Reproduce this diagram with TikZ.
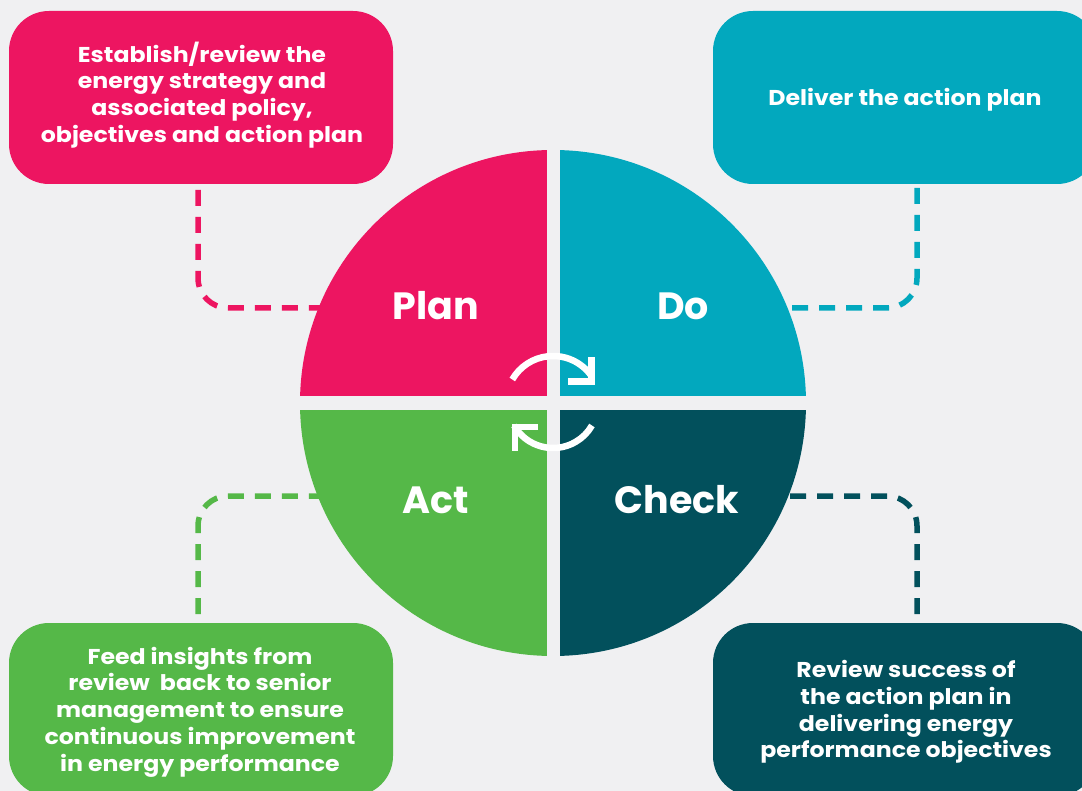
\documentclass[tikz,border=0pt]{standalone}
\usepackage{fontspec}
\setmainfont{Poppins}
\newfontfamily\widefont{Poppins}[FakeStretch=1.1]
\definecolor{bg}{HTML}{F0F0F2}
\definecolor{cplan}{HTML}{ED1561}
\definecolor{cdo}{HTML}{02A8BE}
\definecolor{cact}{HTML}{55B848}
\definecolor{ccheck}{HTML}{02505C}
\begin{document}
\begin{tikzpicture}[x=1pt,y=-1pt,
  infobox/.style={rounded corners=40pt, minimum width=384pt, minimum height=173pt, inner sep=0pt},
  boxtext/.style={text=white, align=center, inner sep=0pt, font=\widefont\fontsize{21.5}{26.7}\selectfont\bfseries},
  quadtext/.style={text=white, anchor=base, inner sep=0pt, font=\fontsize{38}{40}\selectfont\bfseries},
  dashline/.style={line width=5.5pt, dash pattern=on 16pt off 11pt, rounded corners=30pt},
  cycline/.style={white, line width=6.5pt},
  tipline/.style={white, line width=6.5pt, miter limit=10}]
\clip (0,0) rectangle (1082,791);
\fill[bg] (0,0) rectangle (1082,791);
\useasboundingbox (0,0) rectangle (1082,791);

% coordinates for connectors
\coordinate (pstart) at (198,190);
\coordinate (pend) at (330,308);
\coordinate (dstart) at (917,188);
\coordinate (dend) at (776,308);
\coordinate (astart) at (198,614);
\coordinate (aend) at (330,496);
\coordinate (cstart) at (917,614);
\coordinate (cend) at (776,496);

% dashed connectors
\draw[dashline, cplan] (pstart) |- (pend);
\draw[dashline, cdo] (dstart) |- (dend);
\draw[dashline, cact] (astart) |- (aend);
\draw[dashline, ccheck] (cstart) |- (cend);

% boxes
\node[infobox, fill=cplan] (pbox) at (201,97.5) {};
\node[infobox, fill=cdo] (dbox) at (905,97.5) {};
\node[infobox, fill=cact] (abox) at (201,709.5) {};
\node[infobox, fill=ccheck] (cbox) at (905,709.5) {};

\node[boxtext] (ptext) at (202,95) {Establish/review the\\energy strategy and\\associated policy,\\objectives and action plan};
\node[boxtext] (dtext) at (905,100) {Deliver the action plan};
\node[boxtext] (atext) at (200,712) {Feed insights from\\review\ \ back to senior\\management to ensure\\continuous improvement\\in energy performance};
\node[boxtext] (ctext) at (906,712) {Review success of\\the action plan in\\delivering energy\\performance objectives};

% quadrants
\begin{scope}
\clip (553,403) circle (253pt);
\fill[cplan] (290,140) rectangle (546.5,396.5);
\fill[cdo] (560,140) rectangle (816,396.5);
\fill[cact] (290,410) rectangle (546.5,666);
\fill[ccheck] (560,410) rectangle (816,666);
\end{scope}

\node[quadtext] (plan) at (436,320) {Plan};
\node[quadtext] (do) at (683,320) {Do};
\node[quadtext] (act) at (435.5,513) {Act};
\node[quadtext] (check) at (677,513) {Check};

% cycle arrows
\coordinate (c) at (553,403);
\draw[cycline] (c) ++(210:45pt) arc[start angle=210, end angle=330, radius=45pt];
\draw[tipline] (568,381.5) -- (591.5,381.5) -- (591.5,357);
\draw[cycline] (c) ++(36:47pt) arc[start angle=36, end angle=150, radius=47pt];
\draw[tipline] (538,427) -- (515,427) -- (515,451);
\end{tikzpicture}
\end{document}
